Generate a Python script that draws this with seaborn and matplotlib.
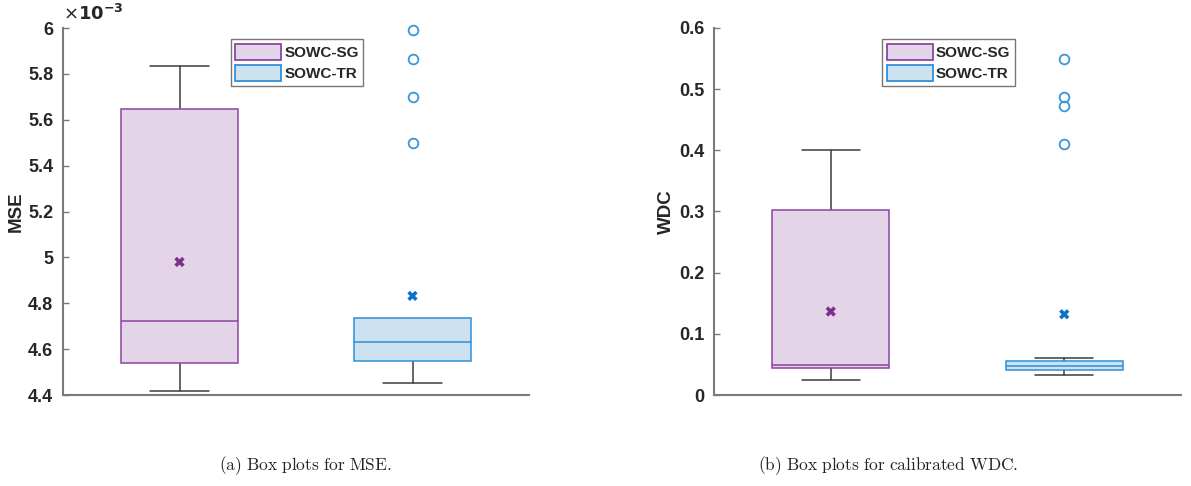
import matplotlib
matplotlib.use("Agg")
import matplotlib.pyplot as plt
import matplotlib.patches as mpatches
from matplotlib.ticker import FormatStrFormatter
import seaborn as sns
import pandas as pd

# values
groups = ["SOWC-SG", "SOWC-TR"]

# MSE (x 1e-3): whislo, q1, median, q3, whishi, mean
mse_whislo = [4.419, 4.452]
mse_q1 = [4.538, 4.547]
mse_med = [4.724, 4.629]
mse_q3 = [5.648, 4.734]
mse_whishi = [5.833, 4.734]
mse_mean = [4.980, 4.832]
mse_fliers = [[], [5.500, 5.700, 5.865, 5.993]]

# calibrated WDC
wdc_whislo = [0.025, 0.033]
wdc_q1 = [0.044, 0.041]
wdc_med = [0.0495, 0.048]
wdc_q3 = [0.302, 0.055]
wdc_whishi = [0.400, 0.060]
wdc_mean = [0.1365, 0.132]
wdc_fliers = [[], [0.411, 0.472, 0.487, 0.549]]

mse_ticks = [4.4, 4.6, 4.8, 5.0, 5.2, 5.4, 5.6, 5.8, 6.0]
wdc_ticks = [0.0, 0.1, 0.2, 0.3, 0.4, 0.5, 0.6]

edge_colors = ["#8E44A0", "#2F8FDB"]
face_colors = ["#E3D4E7", "#CCE2F1"]
mean_colors = ["#7E2F8E", "#0A72C8"]
flier_color = "#3A96DC"
whisker_color = "#3C3C3C"
axis_color = "#7A7A7A"

sns.set_style("white")
plt.rcParams["font.family"] = ["Liberation Sans", "DejaVu Sans"]


def build_stats(lo, q1, med, q3, hi, fl):
    return [dict(whislo=lo[i], q1=q1[i], med=med[i], q3=q3[i], whishi=hi[i],
                 fliers=fl[i], label=groups[i]) for i in range(len(groups))]


def draw_panel(ax, stats, means, ticks, ylabel, ylim):
    bp = ax.bxp(stats, positions=[1, 2], widths=0.5, capwidths=0.25,
                patch_artist=True, showfliers=True)
    for i, box in enumerate(bp["boxes"]):
        box.set_facecolor(face_colors[i])
        box.set_edgecolor(edge_colors[i])
        box.set_linewidth(1.1)
        box.set_zorder(3)
        bp["medians"][i].set_color(edge_colors[i])
        bp["medians"][i].set_linewidth(1.1)
        bp["medians"][i].set_zorder(4)
        # a whisker end that sits on the box edge is not drawn
        if stats[i]["whishi"] <= stats[i]["q3"]:
            bp["caps"][2 * i + 1].set_visible(False)
        if stats[i]["whislo"] >= stats[i]["q1"]:
            bp["caps"][2 * i].set_visible(False)
    for ln in bp["whiskers"] + bp["caps"]:
        ln.set_color(whisker_color)
        ln.set_linewidth(1.1)
        ln.set_zorder(2)
    for fl in bp["fliers"]:
        fl.set_marker("o")
        fl.set_markerfacecolor("none")
        fl.set_markeredgecolor(flier_color)
        fl.set_markeredgewidth(1.3)
        fl.set_markersize(7)
        fl.set_clip_on(False)

    mdf = pd.DataFrame({"pos": [1, 2], "mean": means, "grp": groups})
    sns.scatterplot(data=mdf, x="pos", y="mean", hue="grp", palette=mean_colors,
                    marker="X", s=55, linewidth=0, legend=False, ax=ax, zorder=5)

    ax.set_xlim(0.5, 2.5)
    ax.set_ylim(*ylim)
    ax.set_yticks(ticks)
    ax.yaxis.set_major_formatter(FormatStrFormatter("%g"))
    ax.set_xticks([])
    ax.set_xlabel("")
    ax.set_ylabel(ylabel, fontsize=13.5, fontweight="bold")
    ax.yaxis.set_label_coords(-0.083, 0.5)
    ax.tick_params(axis="y", direction="in", length=4, width=1, color=axis_color,
                   labelsize=13, pad=7, left=True)
    for lab in ax.get_yticklabels():
        lab.set_fontweight("bold")
        lab.set_color("#262626")
    sns.despine(ax=ax)
    for side in ["left", "bottom"]:
        ax.spines[side].set_color(axis_color)
        ax.spines[side].set_linewidth(1.5)

    handles = [mpatches.Patch(facecolor=face_colors[i], edgecolor=edge_colors[i],
                              linewidth=1.3, label=groups[i]) for i in range(2)]
    leg = ax.legend(handles=handles, loc="upper left", bbox_to_anchor=(0.36, 0.97),
                    frameon=True, fancybox=False, edgecolor="#555555",
                    handlelength=3.0, handleheight=1.3, handletextpad=0.2,
                    labelspacing=0.3, borderpad=0.3, borderaxespad=0,
                    prop={"weight": "bold", "size": 11})
    leg.get_frame().set_linewidth(1.0)


fig = plt.figure(figsize=(11.91, 4.86), dpi=100)
ax1 = fig.add_axes([63 / 1191, 1 - 395 / 486, 466 / 1191, 367 / 486])
ax2 = fig.add_axes([714 / 1191, 1 - 395 / 486, 467 / 1191, 367 / 486])

draw_panel(ax1, build_stats(mse_whislo, mse_q1, mse_med, mse_q3, mse_whishi, mse_fliers),
           mse_mean, mse_ticks, "MSE", (4.4, 6.0))
draw_panel(ax2, build_stats(wdc_whislo, wdc_q1, wdc_med, wdc_q3, wdc_whishi, wdc_fliers),
           wdc_mean, wdc_ticks, "WDC", (0.0, 0.6))

ax1.text(0.0, 1.012, r"$\times\mathbf{10^{-3}}$", transform=ax1.transAxes,
         ha="left", va="bottom", fontsize=13, color="#262626",
         math_fontfamily="dejavusans")

fig.text(305 / 1191, 1 - 466 / 486, r"$\mathrm{(a)\ Box\ plots\ for\ MSE.}$",
         ha="center", va="center", fontsize=12.5, math_fontfamily="cm", color="#222222")
fig.text(888 / 1191, 1 - 466 / 486, r"$\mathrm{(b)\ Box\ plots\ for\ calibrated\ WDC.}$",
         ha="center", va="center", fontsize=12.5, math_fontfamily="cm", color="#222222")

fig.savefig("out.png", dpi=100, facecolor="white")
